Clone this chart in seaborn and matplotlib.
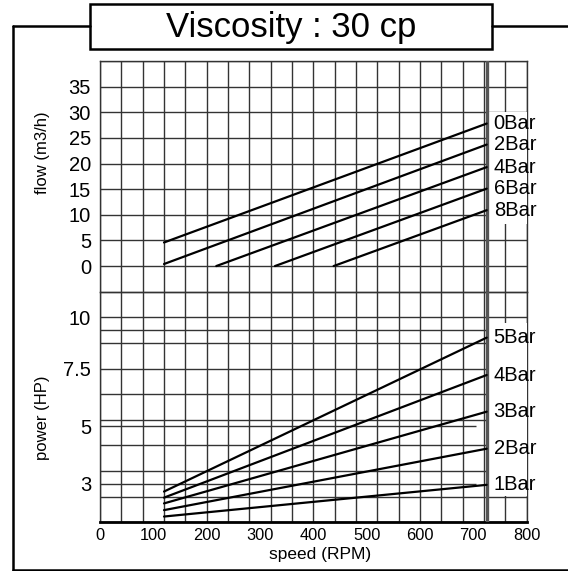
#!/usr/bin/env python3
"""Courbes débit / puissance d'une pompe - viscosité 30 cp."""

import matplotlib.pyplot as plt
from matplotlib.lines import Line2D
from matplotlib.patches import Rectangle
import seaborn as sns
import numpy as np
import pandas as pd

# Données
END_RPM = 725

FLOW_LABELS = ['0Bar', '2Bar', '4Bar', '6Bar', '8Bar']
FLOW_START_RPM = [120, 120, 218, 328, 438]
FLOW_START = [4.6, 0.4, 0, 0, 0]
FLOW_END = [27.8, 23.7, 19.3, 15.1, 10.9]

POWER_LABELS = ['1Bar', '2Bar', '3Bar', '4Bar', '5Bar']
POWER_START_RPM = [120, 120, 120, 120, 120]
POWER_START = [1.98, 2.18, 2.39, 2.57, 2.76]
POWER_END = [2.97, 4.22, 5.63, 7.22, 9.01]

FLOW_TICKS = [0, 5, 10, 15, 20, 25, 30, 35]
POWER_TICKS = [3, 5, 7.5, 10]
SPEED_TICKS = [0, 100, 200, 300, 400, 500, 600, 700, 800]

# échelle non linéaire de l'axe puissance (HP -> rangées de grille)
HP_ANCHORS = [1.8, 3, 5, 7.5, 10, 11.3]
ROW_ANCHORS = [0, 1.5, 3.75, 6, 8, 9]


def hp_to_row(v):
    return np.interp(v, HP_ANCHORS, ROW_ANCHORS)


def row_to_hp(v):
    return np.interp(v, ROW_ANCHORS, HP_ANCHORS)


def long_form(labels, x0, y0, y1, col):
    rows = []
    for lab, a, b, c in zip(labels, x0, y0, y1):
        rows.append({'curve': lab, 'speed': a, col: b})
        rows.append({'curve': lab, 'speed': END_RPM, col: c})
    return pd.DataFrame(rows)


sns.set_style("white")
plt.rcParams['font.family'] = ['Liberation Sans', 'DejaVu Sans']
for k in ('text.color', 'axes.labelcolor', 'xtick.color', 'ytick.color'):
    plt.rcParams[k] = 'black'

GRID = '#333333'
fig = plt.figure(figsize=(5.68, 5.71), dpi=100)
left, width = 100 / 568, 426.7 / 568
ax_flow = fig.add_axes([left, 1 - 291.7 / 571, width, 230.7 / 571])
ax_pow = fig.add_axes([left, 1 - 522.3 / 571, width, 230.6 / 571])

# --- débit ---
df_flow = long_form(FLOW_LABELS, FLOW_START_RPM, FLOW_START, FLOW_END, 'flow')
sns.lineplot(data=df_flow, x='speed', y='flow', units='curve', estimator=None,
             sort=False, color='black', lw=1.6, ax=ax_flow, zorder=4)
ax_flow.set_xlim(0, 800)
ax_flow.set_ylim(-5, 40)
ax_flow.set_yticks(FLOW_TICKS)
ax_flow.set_yticks(np.arange(-5, 41, 5), minor=True)
ax_flow.set_xticks(np.arange(0, 801, 40), minor=True)
ax_flow.set_xticks([])
ax_flow.set_xlabel('')
ax_flow.set_ylabel('')

# --- puissance ---
df_pow = long_form(POWER_LABELS, POWER_START_RPM, POWER_START, POWER_END, 'power')
ax_pow.set_yscale('function', functions=(hp_to_row, row_to_hp))
sns.lineplot(data=df_pow, x='speed', y='power', units='curve', estimator=None,
             sort=False, color='black', lw=1.6, ax=ax_pow, zorder=4)
ax_pow.set_xlim(0, 800)
ax_pow.set_ylim(HP_ANCHORS[0], HP_ANCHORS[-1])
ax_pow.set_yticks(POWER_TICKS)
ax_pow.set_yticklabels(['3', '5', '7.5', '10'])
ax_pow.set_yticks(row_to_hp(np.arange(0, 10)), minor=True)
ax_pow.set_xticks(SPEED_TICKS)
ax_pow.set_xticks(np.arange(0, 801, 40), minor=True)
ax_pow.set_xlabel('')
ax_pow.set_ylabel('')
ax_pow.hlines([3, 5], 0, 705, color=GRID, lw=1.0, zorder=0.6)
ax_pow.hlines([9.4], 0, 800, color=GRID, lw=1.0, zorder=0.6)

for ax in (ax_flow, ax_pow):
    ax.xaxis.remove_overlapping_locs = False
    ax.yaxis.remove_overlapping_locs = False
    ax.set_axisbelow(True)
    ax.grid(False, which='major')
    ax.grid(True, which='minor', color=GRID, lw=1.0)
    ax.tick_params(which='both', length=0)
    ax.tick_params(axis='y', labelsize=14.5, pad=6.5)
    ax.tick_params(axis='x', labelsize=11.8, pad=4)
    for s in ax.spines.values():
        s.set_color(GRID)
        s.set_linewidth(1.0)
    ax.axvline(END_RPM, color='#555555', lw=2.4, zorder=3.5)

ax_flow.spines['bottom'].set_visible(False)
ax_pow.spines['bottom'].set_color('black')
ax_pow.spines['bottom'].set_linewidth(2.0)

# zones blanches des étiquettes à droite
ymin = (min(FLOW_END) + 5 - 2.6) / 45
ymax = (max(FLOW_END) + 5 + 2.2) / 45
ax_flow.axvspan(END_RPM + 3, 800, ymin, ymax, color='white', lw=0, zorder=3)
ymin = (hp_to_row(min(POWER_END)) - 0.43) / 9
ymax = (hp_to_row(max(POWER_END)) + 0.57) / 9
ax_pow.axvspan(END_RPM + 3, 800, ymin, ymax, color='white', lw=0, zorder=3)

for lab, val in zip(FLOW_LABELS, FLOW_END):
    ax_flow.annotate(lab, (END_RPM, val), xytext=(5, 0), textcoords='offset points',
                     ha='left', va='center', fontsize=14.5, zorder=5,
                     annotation_clip=False)
for lab, val in zip(POWER_LABELS, POWER_END):
    ax_pow.annotate(lab, (END_RPM, val), xytext=(5, 0), textcoords='offset points',
                    ha='left', va='center', fontsize=14.5, zorder=5,
                    annotation_clip=False)

# titres des axes
fig.text(320 / 568, 1 - 555 / 571, 'speed (RPM)', ha='center', va='center', fontsize=12.5)
fig.text(42 / 568, 1 - 152.5 / 571, 'flow (m3/h)', ha='center', va='center',
         rotation=90, fontsize=12)
fig.text(42 / 568, 1 - 417.5 / 571, 'power (HP)', ha='center', va='center',
         rotation=90, fontsize=12)


# cadre et titre
def fx(px):
    return px / 568


def fy(py):
    return 1 - py / 571


frame = [((13, 26), (13, 570)), ((13, 570), (568, 570)),
         ((13, 26), (90, 26)), ((491.7, 26), (568, 26))]
for (x0, y0), (x1, y1) in frame:
    fig.add_artist(Line2D([fx(x0), fx(x1)], [fy(y0), fy(y1)], color='black', lw=1.8))
fig.add_artist(Rectangle((fx(90), fy(49)), fx(491.7) - fx(90), fy(4.3) - fy(49),
                         fill=False, edgecolor='black', lw=1.8))
fig.text(fx(290.8), fy(27.5), 'Viscosity : 30 cp', ha='center', va='center', fontsize=25)

plt.savefig('out.png', dpi=100)
plt.close()
